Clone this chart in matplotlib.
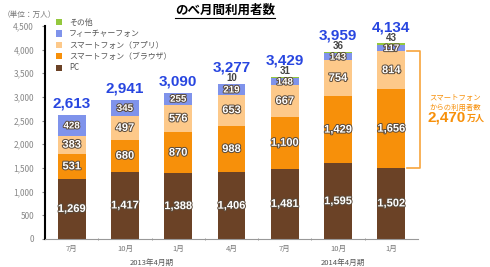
import matplotlib
matplotlib.use("Agg")
import matplotlib.pyplot as plt
import matplotlib.patheffects as pe
import numpy as np

plt.rcParams['font.family'] = ['Noto Sans CJK JP', 'DejaVu Sans']

months = ["7月", "10月", "1月", "4月", "7月", "10月", "1月"]
pc = [1269, 1417, 1388, 1406, 1481, 1595, 1502]
browser = [531, 680, 870, 988, 1100, 1429, 1656]
app = [383, 497, 576, 653, 667, 754, 814]
feature = [428, 345, 255, 219, 148, 143, 117]
other = [0, 0, 0, 10, 31, 36, 43]
totals = [2613, 2941, 3090, 3277, 3429, 3959, 4134]
series_names = ["PC", "スマートフォン（ブラウザ）", "スマートフォン（アプリ）", "フィーチャーフォン", "その他"]
colors = ["#6B4226", "#F7900A", "#FDC98A", "#7F93EB", "#94C83D"]
groups = ["2013年4月期", "2014年4月期"]
smartphone_total = "2,470"

NUMF = ['Liberation Sans', 'DejaVu Sans']

fig = plt.figure(figsize=(4.9, 2.67), dpi=100)
ax = fig.add_axes([0.092, 0.105, 0.761, 0.798])
x = np.arange(len(months))
w = 0.52
series = [pc, browser, app, feature, other]
bottom = np.zeros(len(months))
bars = []
for vals, c, name in zip(series, colors, series_names):
    b = ax.bar(x, vals, w, bottom=bottom, color=c, label=name, zorder=2)
    bars.append(b)
    bottom += np.array(vals)

outline = [pe.withStroke(linewidth=1.4, foreground="#5a4a3a")]
seg_bottom = np.zeros(len(months))
for si, vals in enumerate(series[:4]):
    for i, v in enumerate(vals):
        yc = seg_bottom[i] + v / 2
        fs = 8 if si < 3 else 7
        ax.text(x[i], yc, f"{v:,}", ha="center", va="center", color="white",
                fontsize=fs, fontweight="bold", path_effects=outline, zorder=4,
                family=NUMF)
    seg_bottom += np.array(vals)

for i in range(len(months)):
    top = totals[i]
    if other[i] > 0:
        ax.text(x[i], top + 10, f"{other[i]}", ha="center", va="bottom", color="#444444",
                fontsize=7, fontweight="bold", family=NUMF, zorder=4)
        ty = top + 190
    else:
        ty = top + 90
    ax.text(x[i], ty, f"{totals[i]:,}", ha="center", va="bottom", color="#2846E0",
            fontsize=11, fontweight="bold", family=NUMF, zorder=4)

ax.set_xlim(-0.5, 6.5)
ax.set_ylim(0, 4500)
ax.set_yticks(np.arange(0, 4501, 500))
ax.set_yticklabels([f"{v:,}" for v in range(0, 4501, 500)], color="#888888", fontsize=6)
ax.tick_params(axis="y", length=2, color="#888888", pad=6)
ax.set_xticks(x)
ax.set_xticklabels(months, fontsize=5.5, color="#777777")
ax.tick_params(axis="x", length=0, pad=4)
ax.set_xticks(np.arange(0.5, 6.5, 1), minor=True)
ax.tick_params(axis="x", which="minor", length=2, color="#888888", direction="inout")
for s in ["top", "right"]:
    ax.spines[s].set_visible(False)
ax.spines["left"].set_linewidth(1.5)
ax.spines["left"].set_color("black")
ax.spines["bottom"].set_color("#999999")
ax.spines["bottom"].set_linewidth(0.8)

ax.text(1.5, -0.093, groups[0], transform=ax.get_xaxis_transform(), ha="center", va="top",
        fontsize=5.5, color="#555555")
ax.text(5.1, -0.093, groups[1], transform=ax.get_xaxis_transform(), ha="center", va="top",
        fontsize=5.5, color="#555555")

fig.text(0.005, 0.945, "（単位：万人）", fontsize=5.5, color="#777777", ha="left", va="center")
t = fig.text(0.46, 0.962, "のべ月間利用者数", fontsize=9, fontweight="bold", ha="center", va="center")

handles = [bars[4], bars[3], bars[2], bars[1], bars[0]]
labels = [series_names[4], series_names[3], series_names[2], series_names[1], series_names[0]]
leg = fig.legend(handles, labels, loc="upper left", bbox_to_anchor=(0.108, 0.945), frameon=False,
                 fontsize=5.7, handlelength=0.8, handleheight=0.8, labelspacing=0.3,
                 handletextpad=0.8, borderaxespad=0)
for txt in leg.get_texts():
    txt.set_color("#555555")

i = 6
y_top = pc[i] + browser[i] + app[i]
y_bot = pc[i]
bx0 = x[i] + w / 2 + 0.03
bx1 = x[i] + 0.53
ax.plot([bx0, bx1, bx1, bx0], [y_top, y_top, y_bot, y_bot], color="#F7A43C", lw=1.2,
        clip_on=False, zorder=3)
ax.text(7.2, 2870, "スマートフォン\nからの利用者数", ha="center", va="center", fontsize=5.3,
        color="#F7900A", linespacing=1.3, clip_on=False)
ax.text(7.4, 2560, smartphone_total, ha="right", va="center", fontsize=11, fontweight="bold",
        color="#F7900A", family=NUMF, clip_on=False)
ax.text(7.42, 2545, "万人", ha="left", va="center", fontsize=6.5, fontweight="bold",
        color="#F7900A", clip_on=False)

fig.canvas.draw()
bb = t.get_window_extent()
inv = fig.transFigure.inverted()
(x0, y0), (x1, y1) = inv.transform([(bb.x0, bb.y0), (bb.x1, bb.y1)])
fig.add_artist(plt.Line2D([x0, x1], [y0 - 0.005, y0 - 0.005], color="black", lw=0.8,
                          transform=fig.transFigure))

fig.savefig("out.png", dpi=100)
